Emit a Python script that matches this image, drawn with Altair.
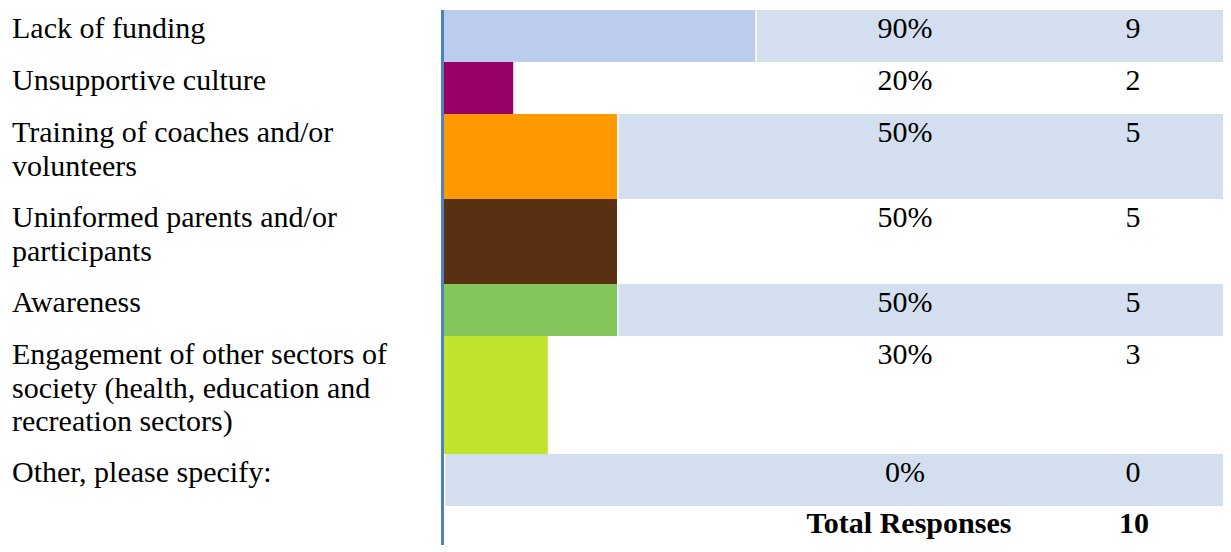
import altair as alt
import pandas as pd

categories = [
    "Lack of funding",
    "Unsupportive culture",
    "Training of coaches and/or\nvolunteers",
    "Uninformed parents and/or\nparticipants",
    "Awareness",
    "Engagement of other sectors of\nsociety (health, education and\nrecreation sectors)",
    "Other, please specify:",
]
percents = [90, 20, 50, 50, 50, 30, 0]
counts = [9, 2, 5, 5, 5, 3, 0]
bar_colors = ["#BBCCEC", "#990066", "#FF9900", "#5A3013", "#83C65C", "#C0E32D", "#BBCCEC"]
total_label = "Total Responses"
total_count = 10

W, H = 1215, 536
FONT = "Liberation Serif"
FS = 30
LINE_H = 33.5

# layout derived from number of label lines
rows = []
top = 1
for i, (c, p, n, col) in enumerate(zip(categories, percents, counts, bar_colors)):
    lines = c.count("\n") + 1
    h = 52 + 33 * (lines - 1)
    rows.append(dict(label=c, pct=p, cnt=n, color=col, top=top, bottom=top + h,
                     base=top + 28, shaded=(i % 2 == 0), zero=0,
                     pct_txt=f"{p}%", cnt_txt=str(n)))
    top += h
df = pd.DataFrame(rows)
total_df = pd.DataFrame([dict(label=total_label, cnt_txt=str(total_count), base=top + 27)])

xs = alt.Scale(domain=[0, 100], range=[436, 782])
ys = alt.Scale(domain=[0, H], range=[0, H])

base = alt.Chart(df)

bg = base.transform_filter("datum.shaded").mark_rect(color="#D3DFEE", xOffset=1.5).encode(
    x=alt.X("pct:Q", scale=xs, axis=None),
    x2=alt.value(W),
    y=alt.Y("top:Q", scale=ys, axis=None),
    y2="bottom:Q",
)

bars = base.transform_filter("datum.pct > 0").mark_rect().encode(
    x=alt.X("zero:Q", scale=xs, axis=None),
    x2="pct:Q",
    y=alt.Y("top:Q", scale=ys, axis=None),
    y2="bottom:Q",
    color=alt.Color("color:N", scale=None),
)

labels = base.mark_text(align="left", baseline="alphabetic", font=FONT, fontSize=FS,
                        lineBreak="\n", lineHeight=LINE_H, color="#000000").encode(
    x=alt.value(4),
    y=alt.Y("base:Q", scale=ys, axis=None),
    text="label:N",
)

pct_text = base.mark_text(align="center", baseline="alphabetic", font=FONT, fontSize=FS,
                          color="#000000").encode(
    x=alt.value(897),
    y=alt.Y("base:Q", scale=ys, axis=None),
    text="pct_txt:N",
)

cnt_text = base.mark_text(align="center", baseline="alphabetic", font=FONT, fontSize=FS,
                          color="#000000").encode(
    x=alt.value(1125),
    y=alt.Y("base:Q", scale=ys, axis=None),
    text="cnt_txt:N",
)

tot = alt.Chart(total_df)
tot_label = tot.mark_text(align="center", baseline="alphabetic", font=FONT, fontSize=FS,
                          fontWeight="bold", color="#000000").encode(
    x=alt.value(901),
    y=alt.Y("base:Q", scale=ys, axis=None),
    text="label:N",
)
tot_cnt = tot.mark_text(align="center", baseline="alphabetic", font=FONT, fontSize=FS,
                        fontWeight="bold", color="#000000").encode(
    x=alt.value(1126),
    y=alt.Y("base:Q", scale=ys, axis=None),
    text="cnt_txt:N",
)

axis_line = alt.Chart(pd.DataFrame({"a": [0]})).mark_rule(color="#4F81BD", strokeWidth=3).encode(
    x=alt.value(434.5), y=alt.value(1), y2=alt.value(H)
)

chart = alt.layer(bg, bars, labels, pct_text, cnt_text, tot_label, tot_cnt, axis_line).properties(
    width=W, height=H, padding=0, background="white"
).configure_view(stroke=None)

chart.save("out.html", embed_options={"renderer": "svg", "actions": False})
